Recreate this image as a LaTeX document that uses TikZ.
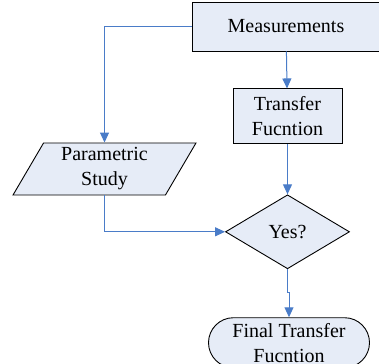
\documentclass[tikz,border=0pt]{standalone}
\usepackage{fontspec}
\setmainfont{Liberation Serif}
\usetikzlibrary{positioning,shapes.geometric,shapes.misc,arrows.meta}
\definecolor{boxfill}{HTML}{E6ECF7}
\definecolor{linkblue}{HTML}{4A7CC8}

\begin{document}
\begin{tikzpicture}[x=1pt,y=1pt,
    font=\fontsize{20}{25}\selectfont,
    block/.style={draw=black,fill=boxfill,line width=0.9pt,align=center,inner sep=0pt},
    link/.style={draw=linkblue,line width=1pt,-{Triangle[width=9pt,length=10pt]}}]
  \useasboundingbox (0,0) rectangle (379,-363);
      \node[block,rectangle,minimum width=188pt,minimum height=49pt](meas) at (286,-26.5){Measurements};
      \node[block,rectangle,minimum width=109pt,minimum height=55pt,below=37pt of meas,xshift=1.5pt](tf){Transfer\\Fucntion};
      \node[block,diamond,aspect=1.68,minimum width=124pt,minimum height=74pt,below=50pt of tf](yes){Yes?};
      \node[block,rounded rectangle,minimum width=161pt,minimum height=50pt,below=48pt of yes,xshift=1.5pt](final){Final Transfer\\Fucntion};
      \node[block,trapezium,trapezium left angle=63,trapezium right angle=117,trapezium stretches=true,
        minimum width=183pt,minimum height=52pt](param) at (104.5,-169){Parametric\\Study};
      \draw[link] (meas) -- (tf);
      \draw[link] (tf) -- (yes);
      \draw[link] (meas.west) -| (param);
      \draw[link] (param) |- (yes);
      \draw[link] (yes.south) -- ++(0,-23) -| (final.north);
    \end{tikzpicture}
\end{document}
